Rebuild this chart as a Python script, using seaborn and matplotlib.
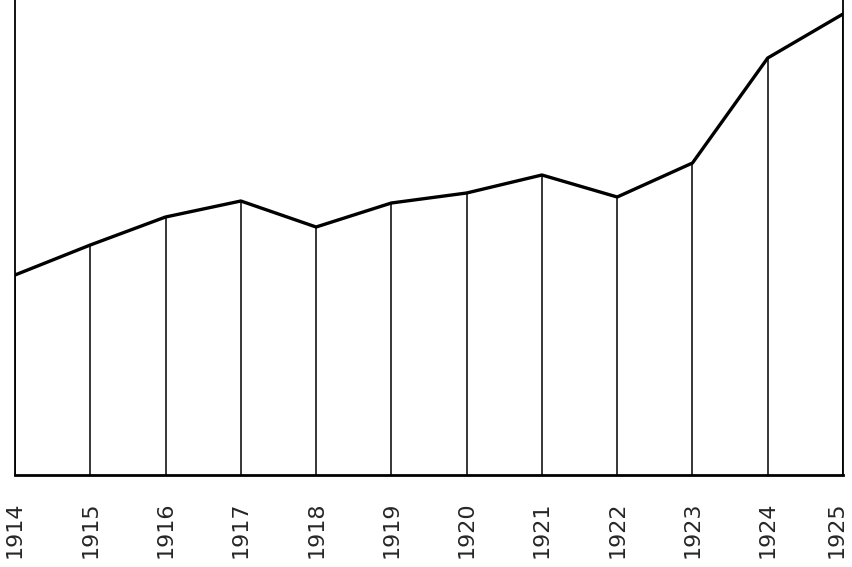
import matplotlib
matplotlib.use("Agg")
import matplotlib.pyplot as plt
import matplotlib.transforms as mtransforms
import seaborn as sns
import pandas as pd

# years and values (arbitrary units above the baseline)
years = [1914, 1915, 1916, 1917, 1918, 1919, 1920, 1921, 1922, 1923, 1924, 1925]
values = [200, 230, 258, 274, 248, 272, 282, 300, 278, 312, 417, 461]
year_labels = [str(y) for y in years]

df = pd.DataFrame({"year": years, "value": values})

sns.set_style("white")
fig = plt.figure(figsize=(8.52, 5.67), dpi=100)
ax = fig.add_axes([15 / 852, 1 - 475 / 567, 828 / 852, 475 / 567])

# thin drop lines from each point to the baseline
ax.vlines(df["year"], 0, df["value"], color="black", linewidth=1.1)
sns.lineplot(data=df, x="year", y="value", ax=ax, color="black", linewidth=2.4)

ax.set_xlim(years[0], years[-1])
ax.set_ylim(0, 475)
ax.set_xticks(years)
ax.set_xticklabels(year_labels, rotation=90, fontsize=16)
ax.tick_params(axis="x", length=0, pad=19)
ax.set_yticks([])
ax.set_xlabel("")
ax.set_ylabel("")

# nudge the last label in so it stays inside the picture
last = ax.get_xticklabels()[-1]
last.set_transform(last.get_transform() + mtransforms.ScaledTranslation(-6 / 100, 0, fig.dpi_scale_trans))

ax.spines["top"].set_visible(False)
ax.spines["left"].set_linewidth(1.3)
ax.spines["right"].set_linewidth(1.3)
ax.spines["bottom"].set_linewidth(2)
for s in ax.spines.values():
    s.set_color("black")

fig.savefig("out.png", dpi=100)
